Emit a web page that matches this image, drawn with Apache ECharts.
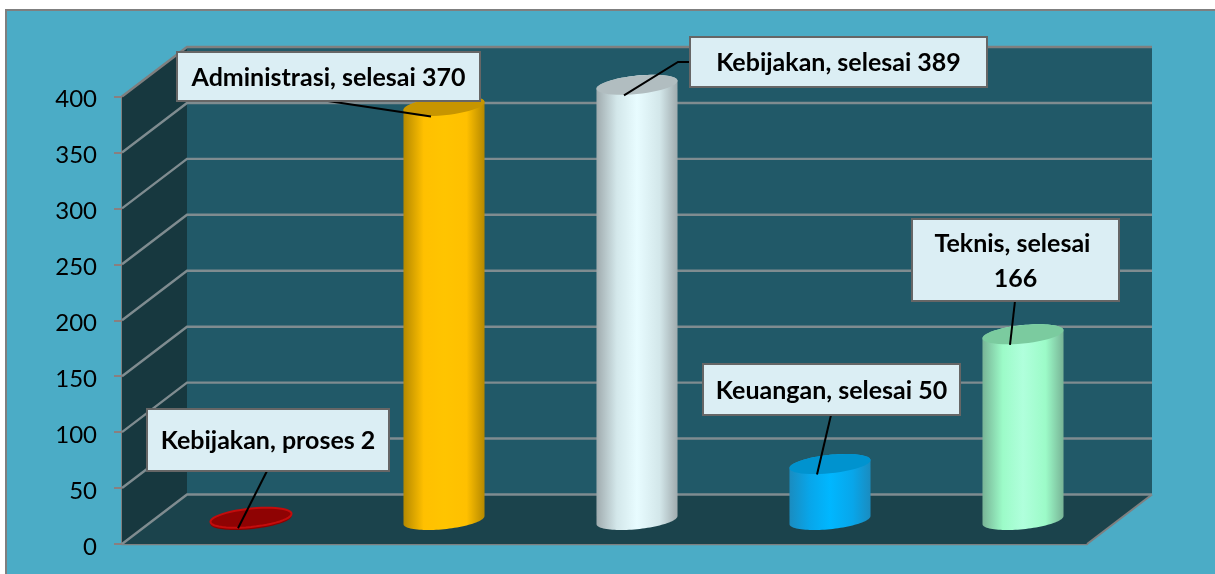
<!DOCTYPE html>
<html><head><meta charset="utf-8">
<style>html,body{margin:0;padding:0;background:#fff}#c{width:1215px;height:574px}</style>
<script src="https://cdn.jsdelivr.net/npm/echarts@6/dist/echarts.min.js"></script>
</head><body><div id="c"></div>
<script>
const categories = ["Kebijakan, proses", "Administrasi, selesai", "Kebijakan, selesai", "Keuangan, selesai", "Teknis, selesai"];
const values = [2, 370, 389, 50, 166];
const yTicks = [0, 50, 100, 150, 200, 250, 300, 350, 400];

// Styling and layout, kept apart from the data
const palette = [
  {edge:'#8b0000', mid:'#8b0000', core:'#8b0000', top:'#8f0303', rim:'#c40c0c'},
  {edge:'#b58900', mid:'#ffc000', core:'#ffc400', top:'#c79500'},
  {edge:'#a0abae', mid:'#d3e7ea', core:'#e8fcff', top:'#b1bdc0'},
  {edge:'#1a8cc0', mid:'#08a6ea', core:'#00b7ff', top:'#0093cf'},
  {edge:'#78b496', mid:'#9cfbc8', core:'#b0ffdc', top:'#7bcb9f'}
];
const callouts = [
  {box:[147,409,242,62], from:[[267,471]]},
  {box:[177,52,303,49],  from:[[328,101]]},
  {box:[690,37,297,50],  from:[[690,62],[678,62]]},
  {box:[703,364,257,51], from:[[831,415]]},
  {box:[912,219,207,82], from:[[1015,301]]}
];
const DEPTH = [65, -49.5];
const BAR_DEPTH = [32.5, -24];
const LINE = '#7f8c90';

const chart = echarts.init(document.getElementById('c'), null, {renderer:'canvas'});

function rim(cx, cy, rx, t0, t1) {
  const pts = [];
  const n = 48;
  for (let i = 0; i <= n; i++) {
    const t = (t0 + (t1 - t0) * i / n) * Math.PI / 180;
    pts.push([cx + rx * Math.cos(t), cy + 9.2 * Math.sin(t) - 4 * Math.cos(t)]);
  }
  return pts;
}
function barTop(api, idx) {
  const p = api.coord([idx, api.value(1)]);
  return [p[0] + BAR_DEPTH[0], p[1] + BAR_DEPTH[1]];
}

function renderWalls(params, api) {
  const cs = params.coordSys;
  const tick = api.value(1);
  const y = api.coord([0, tick])[1];
  const x0 = cs.x, x1 = cs.x + cs.width, bx0 = x0 + DEPTH[0], bx1 = x1 + DEPTH[0];
  const yTop = cs.y, yBot = cs.y + cs.height;
  const children = [];
  if (tick === 0) {
    children.push(
      {type:'polygon', shape:{points:[[bx0,yTop+DEPTH[1]],[bx1,yTop+DEPTH[1]],[bx1,yBot+DEPTH[1]],[bx0,yBot+DEPTH[1]]]}, style:{fill:'#215968'}},
      {type:'polygon', shape:{points:[[x0,yTop],[bx0,yTop+DEPTH[1]],[bx0,yBot+DEPTH[1]],[x0,yBot]]}, style:{fill:'#17383f'}},
      {type:'polygon', shape:{points:[[x0,yBot],[bx0,yBot+DEPTH[1]],[bx1,yBot+DEPTH[1]],[x1,yBot]]}, style:{fill:'#1b434c'}},
      {type:'polyline', shape:{points:[[bx1,yBot+DEPTH[1]],[x1,yBot]]}, style:{fill:'none', stroke:'#7f7f7f', lineWidth:2}}
    );
  }
  children.push({type:'polyline', shape:{points:[[x0,y],[bx0,y+DEPTH[1]],[bx1,y+DEPTH[1]]]},
    style:{fill:'none', stroke: tick === 400 ? '#7f7f7f' : LINE, lineWidth: 2.4}});
  return {type:'group', children};
}

function renderBar(params, api) {
  const i = params.dataIndex;
  const c = palette[i];
  const rx = api.size([1, 0])[0] * 0.21;
  const top = barTop(api, i);
  const base = api.coord([i, 0]);
  const cx = top[0], cyTop = top[1], cyBase = base[1] + BAR_DEPTH[1];
  const grad = {type:'linear', x:0, y:0, x2:1, y2:0, colorStops:[
    {offset:0, color:c.edge},{offset:0.25, color:c.mid},{offset:0.5, color:c.core},{offset:0.78, color:c.mid},{offset:1, color:c.edge}]};
  const body = rim(cx, cyBase, rx, 0, 180).concat(rim(cx, cyTop, rx, 180, 360));
  const children = [{type:'polygon', shape:{points:body}, style:{fill:grad}}];
  children.push({type:'polygon', shape:{points:rim(cx, cyTop, rx, 0, 360)},
    style:{fill:c.top, stroke:c.rim || 'none', lineWidth:c.rim ? 2 : 0}});
  return {type:'group', children};
}

function renderCallout(params, api) {
  const i = params.dataIndex;
  const co = callouts[i];
  const top = barTop(api, i);
  const end = [top[0] - 13, top[1] + 10.5];
  const [x, y, w, h] = co.box;
  const text = categories[i] + ' ' + api.value(1);
  return {type:'group', children:[
    {type:'polyline', shape:{points:co.from.concat([end])}, style:{fill:'none', stroke:'#000', lineWidth:2}},
    {type:'rect', shape:{x, y, width:w, height:h}, style:{fill:'#dbeef4', stroke:'#666', lineWidth:2}},
    {type:'text', style:{x:x+w/2, y:y+h/2+1, text, width:w-20, overflow:'break', lineHeight:35,
      font:'bold 25px Lato', fill:'#000', align:'center', verticalAlign:'middle'}}
  ]};
}

chart.setOption({
  animation:false,
  backgroundColor:'#fff',
  graphic:[{type:'rect', z:-10, shape:{x:6,y:10,width:1240,height:600}, style:{fill:'#4bacc6', stroke:'#7f7f7f', lineWidth:2}}],
  grid:{left:122, right:128, top:96.5, bottom:30},
  xAxis:{type:'category', data:categories, axisLabel:{show:false}, axisTick:{show:false},
    axisLine:{lineStyle:{color:'#7f7f7f', width:2.4}}, splitLine:{show:false}},
  yAxis:{type:'value', min:0, max:400, interval:50,
    axisLine:{show:true, lineStyle:{color:'#7f7f7f', width:2}},
    axisTick:{show:true, length:8, lineStyle:{color:'#8a7f7f', width:2}},
    splitLine:{show:false},
    axisLabel:{color:'#000', fontSize:24, fontFamily:'Lato', margin:25, verticalAlign:'top', lineHeight:6}},
  series:[
    {type:'custom', z:1, silent:true, clip:false, encode:{x:0,y:1}, data:yTicks.map(t=>[0,t]), renderItem:renderWalls},
    {type:'custom', z:3, silent:true, clip:false, encode:{x:0,y:1}, data:values.map((v,i)=>[i,v]), renderItem:renderBar},
    {type:'custom', z:5, silent:true, clip:false, encode:{x:0,y:1}, data:values.map((v,i)=>[i,v]), renderItem:renderCallout}
  ]
});
</script></body></html>
